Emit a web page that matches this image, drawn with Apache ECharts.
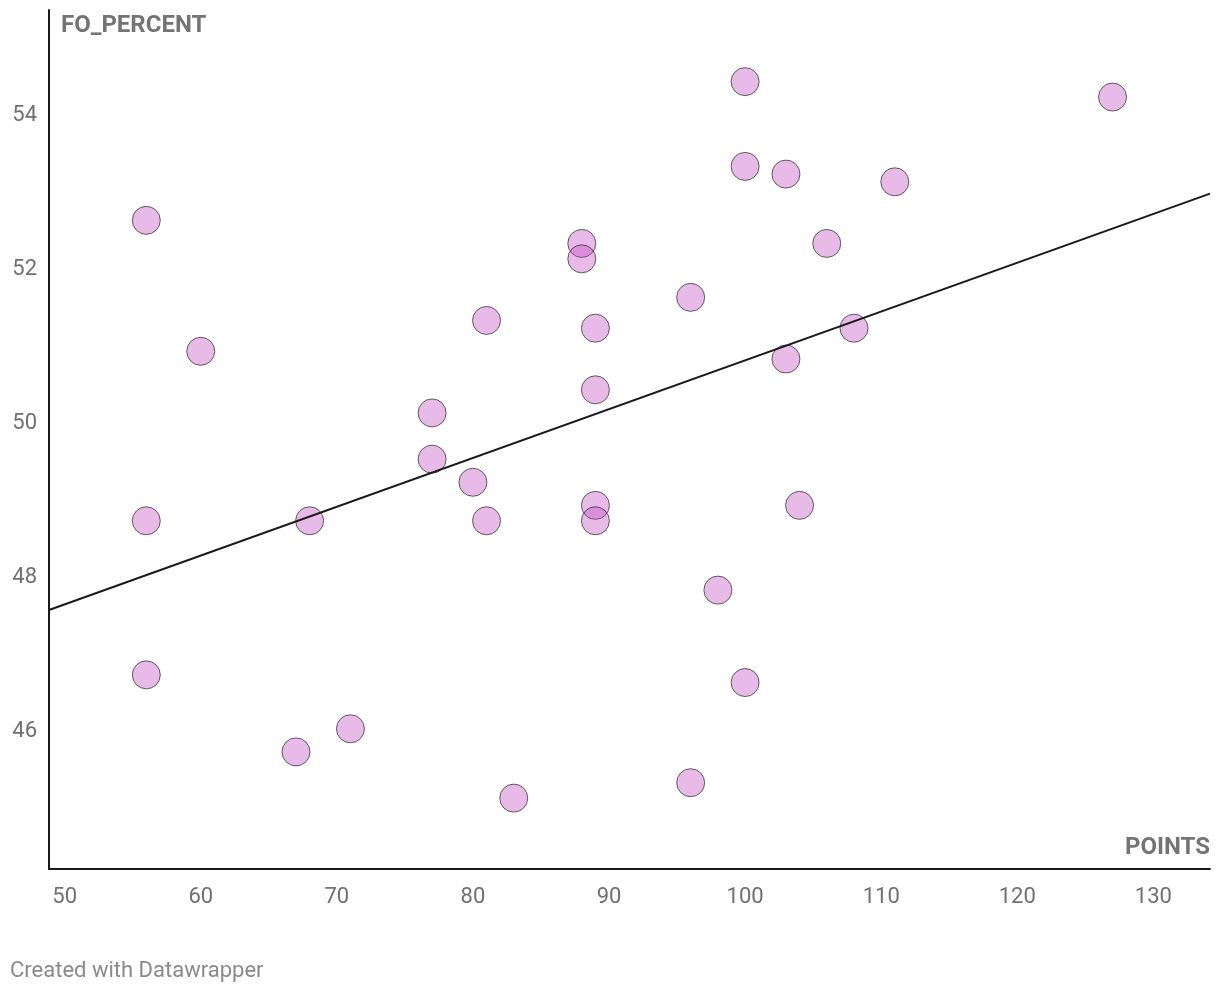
<!DOCTYPE html>
<html>
<head>
<meta charset="utf-8">
<script src="https://cdn.jsdelivr.net/npm/echarts@6/dist/echarts.min.js"></script>
<style>
  html, body { margin: 0; padding: 0; background: #fff; }
  #chart { width: 1220px; height: 1006px; }
</style>
</head>
<body>
<div id="chart"></div>
<script>
// points per team vs faceoff percentage
const points = [56, 56, 56, 60, 67, 68, 71, 77, 77, 80, 81, 81, 83, 88, 88, 89,
  89, 89, 89, 96, 96, 98, 100, 100, 100, 103, 103, 104, 106, 108, 111, 127];
const foPercent = [52.6, 48.7, 46.7, 50.9, 45.7, 48.7, 46.0, 50.1, 49.5, 49.2, 51.3, 48.7, 45.1, 52.3, 52.1, 51.2,
  50.4, 48.9, 48.7, 51.6, 45.3, 47.8, 54.4, 53.3, 46.6, 53.2, 50.8, 48.9, 52.3, 51.2, 53.1, 54.2];

const xTicks = [50, 60, 70, 80, 90, 100, 110, 120, 130];
const yTicks = [46, 48, 50, 52, 54];

const X_MIN = 48.85, X_MAX = 134.16;
const Y_MIN = 44.18, Y_MAX = 55.33;

// least squares trend line
function fitLine(xs, ys) {
  const n = xs.length;
  const mx = xs.reduce((a, b) => a + b, 0) / n;
  const my = ys.reduce((a, b) => a + b, 0) / n;
  let sxy = 0, sxx = 0;
  for (let i = 0; i < n; i++) {
    sxy += (xs[i] - mx) * (ys[i] - my);
    sxx += (xs[i] - mx) * (xs[i] - mx);
  }
  const slope = sxy / sxx;
  return { slope, intercept: my - slope * mx };
}

const fit = fitLine(points, foPercent);
const trend = [X_MIN, X_MAX].map((x) => [x, fit.intercept + fit.slope * x]);

const chart = echarts.init(document.getElementById('chart'));

const labelColor = '#707070';
const fontFamily = 'Roboto, sans-serif';

chart.setOption({
  animation: false,
  backgroundColor: '#ffffff',
  grid: { left: 49, right: 10, top: 10, bottom: 137, containLabel: false },
  xAxis: {
    type: 'value',
    min: X_MIN,
    max: X_MAX,
    axisLine: { show: true, onZero: false, lineStyle: { color: '#1a1a1a', width: 2 } },
    axisTick: { show: false },
    splitLine: { show: false },
    axisLabel: {
      customValues: xTicks,
      color: labelColor,
      fontFamily,
      fontSize: 22,
      margin: 17,
    },
  },
  yAxis: {
    type: 'value',
    min: Y_MIN,
    max: Y_MAX,
    axisLine: { show: true, onZero: false, lineStyle: { color: '#1a1a1a', width: 2 } },
    axisTick: { show: false },
    splitLine: { show: false },
    axisLabel: {
      customValues: yTicks,
      margin: 12,
      formatter: (v) => '{t|' + v + '}',
      rich: {
        t: {
          color: labelColor,
          fontFamily,
          fontSize: 22,
          padding: [6, 0, 0, 0],
        },
      },
    },
  },
  graphic: [
    {
      type: 'text', left: 61, top: 14,
      style: { text: 'FO_PERCENT', fill: '#747474', font: 'bold 24px Roboto, sans-serif' },
    },
    {
      type: 'text', right: 10, top: 836,
      style: { text: 'POINTS', fill: '#747474', font: 'bold 24px Roboto, sans-serif' },
    },
    {
      type: 'text', left: 10, top: 960,
      style: { text: 'Created with Datawrapper', fill: '#8a8a8a', font: '22px Roboto, sans-serif' },
    },
  ],
  series: [
    {
      type: 'line',
      data: trend,
      symbol: 'none',
      silent: true,
      lineStyle: { color: '#1a1a1a', width: 2 },
      z: 3,
    },
    {
      type: 'scatter',
      data: points.map((p, i) => [p, foPercent[i]]),
      symbolSize: 28,
      itemStyle: {
        color: 'rgba(192, 64, 192, 0.45)',
        borderColor: 'rgba(30, 30, 30, 0.85)',
        borderWidth: 1,
      },
      z: 2,
    },
  ],
});
</script>
</body>
</html>
